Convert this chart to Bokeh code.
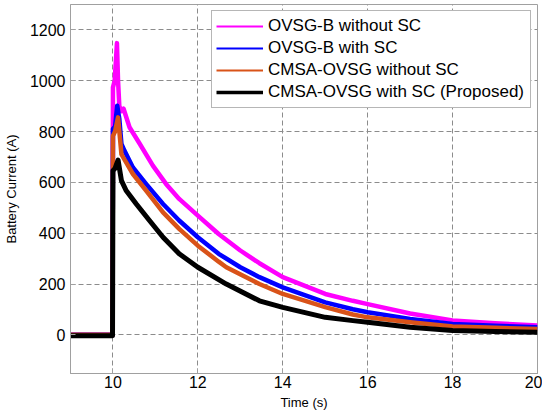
from bokeh.plotting import figure
from bokeh.models import FixedTicker, Range1d, Legend, LegendItem
from bokeh.embed import file_html
from bokeh.resources import INLINE

# ---- data ----
t_ovsgb_nosc = [9.0, 9.99, 10.0, 10.04, 10.07, 10.094, 10.12, 10.15, 10.2, 10.25,
                10.39, 10.63, 10.94, 11.25, 11.56, 12.0, 12.49, 13.0, 13.45, 14.0,
                15.0, 15.65, 16.0, 17.0, 18.0, 19.0, 20.0]
i_ovsgb_nosc = [0, 0, 974, 1000, 1080, 1148, 1000, 900, 880, 890,
                817, 752, 666, 594, 535, 469, 397, 332, 282, 227,
                161, 134, 121, 84, 57, 46, 37]

t_ovsgb_sc = [9.0, 9.99, 10.0, 10.05, 10.1, 10.15, 10.2, 10.27, 10.47, 10.78, 11.18,
              11.56, 12.0, 12.49, 13.0, 13.45, 14.0, 15.0, 15.65, 16.0, 17.0, 18.0,
              19.0, 20.0]
i_ovsgb_sc = [0, 0, 810, 820, 902, 850, 751, 725, 659, 594, 515,
              450, 384, 319, 266, 227, 187, 128, 101, 89, 63, 43,
              36, 30]

t_cmsa_nosc = [9.0, 9.99, 10.0, 10.05, 10.12, 10.2, 10.24, 10.47, 10.78, 11.18,
               11.56, 12.0, 12.49, 12.67, 13.45, 14.0, 15.0, 15.65, 16.0, 17.0,
               18.0, 19.0, 20.0]
i_cmsa_nosc = [0, 0, 783, 800, 856, 711, 699, 633, 568, 482,
               417, 351, 288, 266, 200, 161, 109, 80, 69, 50,
               33, 28, 23]

t_cmsa_sc = [9.0, 9.99, 10.0, 10.05, 10.12, 10.2, 10.31, 10.55, 10.86, 11.18,
             11.56, 12.0, 12.67, 13.45, 14.0, 15.0, 15.65, 16.0, 17.0, 18.0,
             19.0, 20.0]
i_cmsa_sc = [-3, -3, 646, 655, 688, 607, 568, 515, 450, 384,
             319, 266, 200, 134, 108, 69, 56, 50, 30, 17,
             13, 10]

x_ticks = [10, 12, 14, 16, 18, 20]
y_ticks = [0, 200, 400, 600, 800, 1000, 1200]

labels = ["OVSG-B without SC", "OVSG-B with SC", "CMSA-OVSG without SC",
          "CMSA-OVSG with SC (Proposed)"]
colors = ["#FF00FF", "#0000FF", "#D95319", "#000000"]
widths = [4.5, 4.5, 4.5, 5]
legend_widths = [2, 2, 2, 3.5]

FONT = "Liberation Sans"
GRAY = "#a0a0a0"

p = figure(width=542, height=412, output_backend="svg", toolbar_location=None,
           x_range=Range1d(9, 20), y_range=Range1d(-152, 1300),
           min_border_left=68, min_border_right=5, min_border_top=4,
           min_border_bottom=39)
p.background_fill_color = "white"
p.border_fill_color = "white"
p.outline_line_color = GRAY
p.outline_line_width = 1

series = [(t_ovsgb_nosc, i_ovsgb_nosc), (t_ovsgb_sc, i_ovsgb_sc),
          (t_cmsa_nosc, i_cmsa_nosc), (t_cmsa_sc, i_cmsa_sc)]
items = []
for (t, i), lab, c, w, lw in zip(series, labels, colors, widths, legend_widths):
    p.line(t, i, line_color=c, line_width=w, line_join="round")
    # single-point proxy (draws no segment) so the legend key can be thinner
    key = p.line(t[:1], i[:1], line_color=c, line_width=lw)
    items.append(LegendItem(label=lab, renderers=[key]))

legend = Legend(items=items, location="top_right", margin=6, padding=4,
                spacing=0, glyph_width=47, glyph_height=22, label_height=22,
                label_width=258, label_standoff=5,
                label_text_font=FONT, label_text_font_size="17px",
                label_text_color="black",
                border_line_color="#6e6e6e", border_line_width=1,
                background_fill_color="white", background_fill_alpha=1)
p.add_layout(legend, "center")

for ax in (p.xaxis, p.yaxis):
    ax.axis_line_color = GRAY
    ax.major_tick_line_color = GRAY
    ax.major_tick_in = 5
    ax.major_tick_out = 0
    ax.minor_tick_line_color = None
    ax.major_label_text_font = FONT
    ax.major_label_text_font_size = "16px"
    ax.major_label_text_color = "black"
    ax.axis_label_text_font = FONT
    ax.axis_label_text_font_size = "13px"
    ax.axis_label_text_font_style = "normal"
    ax.axis_label_text_color = "black"

p.xaxis.ticker = FixedTicker(ticks=x_ticks)
p.yaxis.ticker = FixedTicker(ticks=y_ticks)
p.xaxis.axis_label = "Time (s)"
p.yaxis.axis_label = "Battery Current (A)"
p.xaxis.major_label_standoff = 2
p.xaxis.axis_label_standoff = 4
p.yaxis.major_label_standoff = 5
p.yaxis.axis_label_standoff = 8

p.xgrid.ticker = FixedTicker(ticks=x_ticks)
p.ygrid.ticker = FixedTicker(ticks=y_ticks)
for g in (p.xgrid, p.ygrid):
    g.grid_line_color = "#8c8c8c"
    g.grid_line_dash = "5 3"
    g.grid_line_width = 1

open("out.html", "w").write(file_html(p, INLINE))
